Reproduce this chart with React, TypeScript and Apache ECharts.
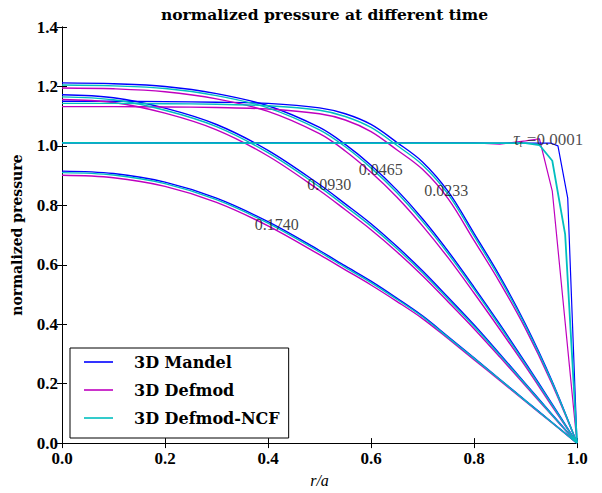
import React, { useEffect, useRef } from "react";
import * as echarts from "echarts";

// shared radial grid for the smooth curves
const rGrid = [0, 0.1, 0.2, 0.3, 0.4, 0.5, 0.55, 0.6, 0.65, 0.7, 0.75, 0.8, 0.85, 0.9, 0.95, 1.0];

// tau = 0.0233
const mandel_0233 = [1.150, 1.150, 1.149, 1.147, 1.143, 1.128, 1.108, 1.072, 1.012, 0.946, 0.846, 0.706, 0.562, 0.400, 0.215, 0];
const ncf_0233 = [1.143, 1.143, 1.142, 1.140, 1.135, 1.120, 1.099, 1.062, 1.002, 0.936, 0.837, 0.697, 0.554, 0.394, 0.211, 0];
const defmod_0233 = [1.132, 1.132, 1.131, 1.129, 1.124, 1.108, 1.087, 1.048, 0.987, 0.921, 0.822, 0.682, 0.541, 0.385, 0.205, 0];

// tau = 0.0465
const mandel_0465 = [1.212, 1.209, 1.200, 1.176, 1.135, 1.062, 1.005, 0.935, 0.852, 0.755, 0.645, 0.525, 0.400, 0.270, 0.136, 0];
const ncf_0465 = [1.205, 1.202, 1.193, 1.169, 1.128, 1.054, 0.997, 0.926, 0.843, 0.746, 0.637, 0.518, 0.394, 0.265, 0.133, 0];
const defmod_0465 = [1.195, 1.192, 1.182, 1.158, 1.116, 1.041, 0.983, 0.911, 0.828, 0.731, 0.623, 0.505, 0.383, 0.258, 0.128, 0];

// tau = 0.0930
const mandel_0930 = [1.172, 1.162, 1.127, 1.072, 0.985, 0.870, 0.805, 0.738, 0.662, 0.580, 0.490, 0.398, 0.300, 0.200, 0.100, 0];
const ncf_0930 = [1.165, 1.155, 1.120, 1.065, 0.977, 0.862, 0.797, 0.730, 0.655, 0.573, 0.484, 0.393, 0.296, 0.197, 0.098, 0];
const defmod_0930 = [1.156, 1.146, 1.110, 1.054, 0.966, 0.850, 0.785, 0.718, 0.644, 0.563, 0.475, 0.385, 0.290, 0.193, 0.096, 0];

// tau = 0.1740
const mandel_1740 = [0.915, 0.907, 0.878, 0.824, 0.745, 0.648, 0.596, 0.545, 0.488, 0.428, 0.358, 0.287, 0.215, 0.143, 0.072, 0];
const ncf_1740 = [0.910, 0.902, 0.873, 0.819, 0.740, 0.643, 0.591, 0.540, 0.484, 0.425, 0.355, 0.285, 0.214, 0.142, 0.071, 0];
const defmod_1740 = [0.901, 0.893, 0.864, 0.810, 0.731, 0.634, 0.583, 0.532, 0.477, 0.419, 0.351, 0.281, 0.211, 0.140, 0.070, 0];

// tau = 0.0001 (own sample points)
const mandel_0001_r = [0, 0.5, 0.95, 0.963, 0.982, 1.0];
const mandel_0001_v = [1.010, 1.010, 1.009, 1.000, 0.824, 0];
const defmod_0001_r = [0, 0.8, 0.85, 0.9, 0.927, 0.952, 1.0];
const defmod_0001_v = [1.010, 1.010, 1.006, 1.017, 1.024, 0.848, 0];
const ncf_0001_r = [0, 0.9, 0.927, 0.952, 0.977, 1.0];
const ncf_0001_v = [1.010, 1.009, 1.003, 0.950, 0.702, 0];

// curve annotations [r, value, text]
const timeLabels: [number, number, string][] = [
  [0.746, 0.850, "0.0233"],
  [0.619, 0.919, "0.0465"],
  [0.519, 0.869, "0.0930"],
  [0.417, 0.736, "0.1740"],
];
const tauLabel: [number, number] = [0.876, 1.022];

const xTicks = [0, 0.2, 0.4, 0.6, 0.8, 1.0];
const yTicks = [0, 0.2, 0.4, 0.6, 0.8, 1.0, 1.2, 1.4];

const NAME_MANDEL = "3D Mandel";
const NAME_DEFMOD = "3D Defmod";
const NAME_NCF = "3D Defmod-NCF";

const C_MANDEL = "#0000ff";
const C_DEFMOD = "#bf00bf";
const C_NCF = "#00bfbf";

const SERIF = "'Liberation Serif', 'DejaVu Serif', serif";
const SERIF_BOLD = "'DejaVu Serif', 'Liberation Serif', serif";

function zip(rs: number[], vs: number[]) {
  return rs.map((r, i) => [r, vs[i]]);
}

function line(name: string, color: string, data: number[][], smooth: boolean | number, z: number, width = 1.4) {
  return {
    type: "line",
    name,
    data,
    smooth,
    symbol: "none",
    showSymbol: false,
    lineStyle: { color, width },
    itemStyle: { color },
    z,
  };
}

export default function App() {
  const ref = useRef<HTMLDivElement>(null);

  useEffect(() => {
    document.body.style.margin = "0";
    if (!ref.current) return;
    const chart = echarts.init(ref.current, undefined, { renderer: "svg" });

    const groups = [
      [mandel_0233, defmod_0233, ncf_0233],
      [mandel_0465, defmod_0465, ncf_0465],
      [mandel_0930, defmod_0930, ncf_0930],
      [mandel_1740, defmod_1740, ncf_1740],
    ];
    const series: any[] = [];
    groups.forEach(([m, d, n]) => {
      series.push(line(NAME_MANDEL, C_MANDEL, zip(rGrid, m), 0.35, 2));
      series.push(line(NAME_DEFMOD, C_DEFMOD, zip(rGrid, d), 0.35, 3));
      series.push(line(NAME_NCF, C_NCF, zip(rGrid, n), 0.35, 4));
    });
    series.push(line(NAME_DEFMOD, C_DEFMOD, zip(defmod_0001_r, defmod_0001_v), false, 2, 1.2));
    series.push(line(NAME_MANDEL, C_MANDEL, zip(mandel_0001_r, mandel_0001_v), false, 2, 1.2));
    series.push(line(NAME_NCF, C_NCF, zip(ncf_0001_r, ncf_0001_v), false, 5, 1.8));

    series.push({
      type: "scatter",
      name: "labels",
      symbolSize: 0,
      silent: true,
      z: 6,
      data: timeLabels.map(([r, v, t]) => ({ value: [r, v], name: t })),
      label: {
        show: true,
        position: "inside",
        formatter: (p: any) => p.name,
        fontFamily: SERIF,
        fontSize: 16,
        color: "#111",
      },
    });
    series.push({
      type: "scatter",
      name: "tau",
      symbolSize: 0,
      silent: true,
      z: 6,
      data: [{ value: tauLabel }],
      label: {
        show: true,
        position: "right",
        distance: 0,
        formatter: "{i|τ}{s|t}{n| =0.0001}",
        color: "#222",
        rich: {
          i: { fontFamily: SERIF, fontSize: 18, fontStyle: "italic", color: "#222" },
          s: { fontFamily: SERIF, fontSize: 11, fontStyle: "italic", color: "#222", verticalAlign: "bottom", padding: [6, 0, 0, 0] },
          n: { fontFamily: SERIF, fontSize: 17, color: "#222" },
        },
      },
    });

    const axisCommon = {
      type: "value",
      axisLine: { show: true, lineStyle: { color: "#000", width: 1 } },
      axisTick: { show: true, inside: true, length: 5, lineStyle: { color: "#000" } },
      splitLine: { show: false },
    };

    chart.setOption({
      animation: false,
      backgroundColor: "#fff",
      title: {
        text: "normalized pressure at different time",
        left: 319.5,
        textAlign: "center",
        top: 1,
        textStyle: { fontFamily: SERIF_BOLD, fontWeight: "bold", fontSize: 15.5, color: "#000" },
      },
      grid: { left: 62, right: 25, top: 27, bottom: 45, show: false },
      legend: {
        data: [NAME_MANDEL, NAME_DEFMOD, NAME_NCF],
        orient: "vertical",
        left: 70,
        top: 348,
        icon: "rect",
        itemWidth: 29,
        itemHeight: 1.6,
        itemGap: 12,
        padding: [6, 9, 12, 14],
        borderColor: "#000",
        borderWidth: 1,
        borderRadius: 0,
        backgroundColor: "#fff",
        textStyle: {
          fontFamily: SERIF_BOLD,
          fontWeight: "bold",
          fontSize: 16,
          color: "#000",
          padding: [0, 0, 0, 16],
          lineHeight: 16,
        },
      },
      xAxis: [
        {
          ...axisCommon,
          min: 0,
          max: 1,
          interval: 0.2,
          position: "bottom",
          name: "r/a",
          nameLocation: "middle",
          nameGap: 27,
          nameTextStyle: { fontFamily: SERIF, fontStyle: "italic", fontSize: 16, color: "#000" },
          axisLabel: {
            show: true,
            margin: 7,
            fontFamily: SERIF,
            fontWeight: "bold",
            fontSize: 17,
            color: "#000",
            formatter: (v: number) => (xTicks.some((t) => Math.abs(t - v) < 1e-9) ? v.toFixed(1) : ""),
          },
        },
        {
          ...axisCommon,
          min: 0,
          max: 1,
          interval: 0.2,
          position: "top",
          axisLabel: { show: false },
        },
      ],
      yAxis: [
        {
          ...axisCommon,
          min: 0,
          max: 1.4,
          interval: 0.2,
          position: "left",
          name: "normalized pressure",
          nameLocation: "middle",
          nameGap: 38,
          nameTextStyle: { fontFamily: SERIF_BOLD, fontWeight: "bold", fontSize: 14, color: "#000" },
          axisLabel: {
            show: true,
            margin: 4,
            fontFamily: SERIF,
            fontWeight: "bold",
            fontSize: 17,
            color: "#000",
            formatter: (v: number) => (yTicks.some((t) => Math.abs(t - v) < 1e-9) ? v.toFixed(1) : ""),
          },
        },
        {
          ...axisCommon,
          min: 0,
          max: 1.4,
          interval: 0.2,
          position: "right",
          axisLabel: { show: false },
        },
      ],
      series,
    });

    return () => chart.dispose();
  }, []);

  return <div ref={ref} style={{ width: 602, height: 493 }} />;
}
